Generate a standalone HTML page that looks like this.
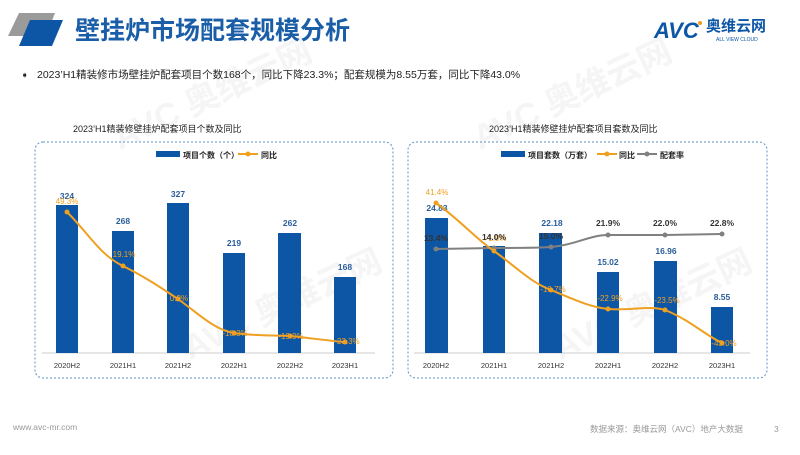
<!DOCTYPE html>
<html><head><meta charset="utf-8"><style>
body{margin:0;width:800px;height:450px;background:#fff;overflow:hidden;font-family:"Liberation Sans","Noto Sans CJK SC",sans-serif;}
</style></head><body>
<svg width="800" height="450" xmlns="http://www.w3.org/2000/svg" font-family="Liberation Sans, Noto Sans CJK SC, sans-serif">
<g fill="#e8e8e8" opacity="0.45" font-weight="bold">
<text x="120" y="150" font-size="34" transform="rotate(-25 120 150)">AVC 奥维云网</text>
<text x="480" y="150" font-size="34" transform="rotate(-25 480 150)">AVC 奥维云网</text>
<text x="190" y="360" font-size="34" transform="rotate(-25 190 360)">AVC 奥维云网</text>
<text x="560" y="360" font-size="34" transform="rotate(-25 560 360)">AVC 奥维云网</text>
</g>
<polygon points="19,13 55,13 46,36 8,36" fill="#9b9b9b"/>
<polygon points="30,20 63,20 52,46 19,46" fill="#0d56a6"/>
<text x="75" y="39" font-size="25" font-weight="bold" fill="#1b5ea8">壁挂炉市场配套规模分析</text>
<text x="654" y="38" font-size="22" font-weight="bold" fill="#0d56a6" font-style="italic">AVC</text>
<circle cx="700" cy="23" r="2" fill="#f0a020"/>
<text x="706" y="31" font-size="15" font-weight="bold" fill="#0d56a6">奥维云网</text>
<text x="716" y="41" font-size="5" fill="#0d56a6">ALL VIEW CLOUD</text>

<text x="21" y="78" font-size="9" fill="#222">➧</text>
<text x="37" y="78" font-size="10.5" fill="#222">2023’H1精装修市场壁挂炉配套项目个数168个，同比下降23.3%；配套规模为8.55万套，同比下降43.0%</text>

<text x="73" y="132" font-size="9" fill="#222">2023’H1精装修壁挂炉配套项目个数及同比</text>
<text x="489" y="132" font-size="9" fill="#222">2023’H1精装修壁挂炉配套项目套数及同比</text>

<rect x="35" y="142" width="358" height="236" rx="8" fill="none" stroke="#5b8fcf" stroke-width="1" stroke-dasharray="2,2"/>
<rect x="408" y="142" width="359" height="236" rx="8" fill="none" stroke="#5b8fcf" stroke-width="1" stroke-dasharray="2,2"/>

<rect x="156" y="151" width="24" height="6" fill="#0d56a6"/>
<text x="183" y="158" font-size="8" font-weight="bold" fill="#222">项目个数（个）</text>
<line x1="238" y1="154" x2="258" y2="154" stroke="#f0a020" stroke-width="2"/><circle cx="248" cy="154" r="2.5" fill="#f0a020"/>
<text x="261" y="158" font-size="8" font-weight="bold" fill="#222">同比</text>
<line x1="42" y1="353" x2="375" y2="353" stroke="#ccc"/>
<g fill="#0d56a6">
<rect x="56" y="205" width="22" height="148"/><rect x="112" y="231" width="22" height="122"/>
<rect x="167" y="203" width="22" height="150"/><rect x="223" y="253" width="22" height="100"/>
<rect x="278" y="233" width="23" height="120"/><rect x="334" y="277" width="22" height="76"/>
</g>
<g font-size="8.5" font-weight="bold" fill="#2a5d9a" text-anchor="middle">
<text x="67" y="199">324</text><text x="123" y="224">268</text><text x="178" y="197">327</text>
<text x="234" y="246">219</text><text x="290" y="226">262</text><text x="345" y="270">168</text>
</g>
<path d="M67,212 C90,235 100,255 123,266 C145,277 160,287 178,299 C200,315 215,330 234,333 C255,336 270,335 290,336 C310,338 330,341 345,342" fill="none" stroke="#f0a020" stroke-width="2"/>
<g fill="#f0a020"><circle cx="67" cy="212" r="2.5"/><circle cx="123" cy="266" r="2.5"/><circle cx="178" cy="299" r="2.5"/><circle cx="234" cy="333" r="2.5"/><circle cx="290" cy="336" r="2.5"/><circle cx="345" cy="342" r="2.5"/></g>
<g font-size="8" fill="#f0a020" text-anchor="middle">
<text x="67" y="204">49.3%</text><text x="124" y="257">19.1%</text><text x="179" y="301">0.9%</text>
<text x="235" y="336">-18.3%</text><text x="291" y="339">-19.9%</text><text x="347" y="344">-23.3%</text>
</g>
<g font-size="7.5" fill="#333" text-anchor="middle">
<text x="67" y="368">2020H2</text><text x="123" y="368">2021H1</text><text x="178" y="368">2021H2</text>
<text x="234" y="368">2022H1</text><text x="290" y="368">2022H2</text><text x="345" y="368">2023H1</text>
</g>

<rect x="501" y="151" width="24" height="6" fill="#0d56a6"/>
<text x="528" y="158" font-size="8" font-weight="bold" fill="#222">项目套数（万套）</text>
<line x1="597" y1="154" x2="617" y2="154" stroke="#f0a020" stroke-width="2"/><circle cx="607" cy="154" r="2.5" fill="#f0a020"/>
<text x="619" y="158" font-size="8" font-weight="bold" fill="#222">同比</text>
<line x1="637" y1="154" x2="657" y2="154" stroke="#808080" stroke-width="2"/><circle cx="647" cy="154" r="2.5" fill="#808080"/>
<text x="660" y="158" font-size="8" font-weight="bold" fill="#222">配套率</text>
<line x1="414" y1="353" x2="750" y2="353" stroke="#ccc"/>
<g fill="#0d56a6">
<rect x="425" y="218" width="23" height="135"/><rect x="483" y="246" width="22" height="107"/>
<rect x="539" y="233" width="23" height="120"/><rect x="597" y="272" width="22" height="81"/>
<rect x="654" y="261" width="23" height="92"/><rect x="711" y="307" width="22" height="46"/>
</g>
<g font-size="8.5" font-weight="bold" fill="#2a5d9a" text-anchor="middle">
<text x="437" y="211">24.83</text><text x="552" y="226">22.18</text>
<text x="608" y="265">15.02</text><text x="666" y="254">16.96</text><text x="722" y="300">8.55</text>
</g>
<path d="M436,249 L494,248 C520,248 535,248 551,247 C575,245 590,235 608,235 L665,235 L722,234" fill="none" stroke="#808080" stroke-width="2"/>
<g fill="#808080"><circle cx="436" cy="249" r="2.5"/><circle cx="494" cy="248" r="2.5"/><circle cx="551" cy="247" r="2.5"/><circle cx="608" cy="235" r="2.5"/><circle cx="665" cy="235" r="2.5"/><circle cx="722" cy="234" r="2.5"/></g>
<path d="M436,203 C460,220 475,238 494,251 C515,266 530,282 551,290 C575,300 590,307 608,309 C630,311 650,305 665,310 C690,320 705,335 722,343" fill="none" stroke="#f0a020" stroke-width="2"/>
<g fill="#f0a020"><circle cx="436" cy="203" r="2.5"/><circle cx="494" cy="251" r="2.5"/><circle cx="551" cy="290" r="2.5"/><circle cx="608" cy="309" r="2.5"/><circle cx="665" cy="310" r="2.5"/><circle cx="722" cy="343" r="2.5"/></g>
<g font-size="8" fill="#f0a020" text-anchor="middle">
<text x="437" y="195">41.4%</text><text x="496" y="241">-1.9%</text><text x="553" y="292">-10.7%</text>
<text x="610" y="301">-22.9%</text><text x="667" y="303">-23.5%</text><text x="724" y="346">-43.0%</text>
</g>
<g font-size="8.5" font-weight="bold" fill="#333" text-anchor="middle">
<text x="436" y="241">13.4%</text><text x="494" y="240">14.0%</text><text x="551" y="239">15.0%</text>
<text x="608" y="226">21.9%</text><text x="665" y="226">22.0%</text><text x="722" y="226">22.8%</text>
</g>
<g font-size="7.5" fill="#333" text-anchor="middle">
<text x="436" y="368">2020H2</text><text x="494" y="368">2021H1</text><text x="551" y="368">2021H2</text>
<text x="608" y="368">2022H1</text><text x="665" y="368">2022H2</text><text x="722" y="368">2023H1</text>
</g>

<text x="13" y="430" font-size="8.5" fill="#999">www.avc-mr.com</text>
<text x="590" y="432" font-size="8.5" fill="#999">数据来源：奥维云网（AVC）地产大数据</text>
<text x="774" y="432" font-size="8.5" fill="#999">3</text>
</svg>
</body></html>
